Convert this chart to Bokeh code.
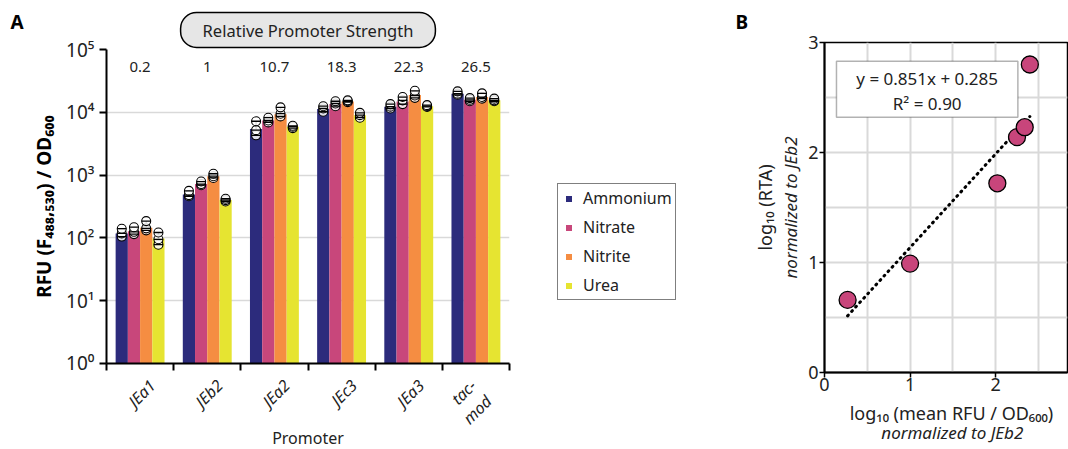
import math
from bokeh.plotting import figure
from bokeh.models import (Range1d, FixedTicker, Label, Legend, LegendItem,
                          BoxAnnotation, Title)
from bokeh.layouts import row, column
from bokeh.embed import file_html
from bokeh.resources import INLINE
from bokeh.core.properties import value

FONT = "Noto Sans"
INK = "#222222"

# ---------------- data ----------------
promoters = ["JEa1", "JEb2", "JEa2", "JEc3", "JEa3", "tac-\nmod"]
strength = [0.2, 1, 10.7, 18.3, 22.3, 26.5]
nitrogen_sources = ["Ammonium", "Nitrate", "Nitrite", "Urea"]
colors = ["#2c2b7c", "#c8477b", "#f58d42", "#e6e431"]

ammonium_mean = [118, 490, 5400, 11300, 12300, 19800]
nitrate_mean = [128, 720, 7400, 13500, 14800, 15800]
nitrite_mean = [145, 960, 9300, 14800, 18800, 17500]
urea_mean = [98, 400, 5900, 9000, 12500, 15500]

ammonium_reps = [[105, 118, 140], [460, 480, 560], [4300, 5200, 7200],
                 [10200, 11500, 12500], [11500, 12300, 13500], [19000, 19800, 21500]]
nitrate_reps = [[115, 125, 148], [690, 720, 790], [6900, 7400, 8200],
                [12500, 13800, 15000], [13500, 15500, 17500], [15000, 15800, 16800]]
nitrite_reps = [[132, 142, 185], [900, 960, 1050], [8600, 9500, 12000],
                [14500, 15000, 15500], [17000, 18500, 22000], [16500, 17500, 20000]]
urea_reps = [[78, 95, 122], [380, 400, 420], [5600, 5900, 6100],
             [8200, 9000, 9800], [12200, 12500, 13000], [15000, 15500, 16500]]

means = [ammonium_mean, nitrate_mean, nitrite_mean, urea_mean]
replicates = [ammonium_reps, nitrate_reps, nitrite_reps, urea_reps]

# panel B: log10 values normalised to JEb2
log_rfu = [0.27, 1.00, 2.02, 2.25, 2.34, 2.40]
log_rta = [0.66, 0.99, 1.72, 2.14, 2.23, 2.80]
fit_slope = 0.851
fit_intercept = 0.285
fit_r2 = 0.90


def blank(width, height, x_range, y_range, left=0, right=0):
    """Axis-less strip used for text that sits around the plotting areas."""
    f = figure(width=width, height=height, x_range=x_range, y_range=y_range,
               output_backend="svg", toolbar_location=None,
               x_axis_location=None, y_axis_location=None,
               min_border=0, min_border_left=left, min_border_right=right)
    f.frame_align = False
    f.grid.grid_line_color = None
    f.outline_line_color = None
    return f


# ---------------- panel A ----------------
pA = figure(width=517, height=375, y_axis_type="log",
            x_range=Range1d(0, 6), y_range=Range1d(1, 1e5),
            output_backend="svg", toolbar_location=None,
            title="Relative Promoter Strength",
            min_border_left=78, min_border_right=36,
            min_border_top=49, min_border_bottom=12)
pA.frame_align = False
pA.outline_line_color = None
pA.xgrid.grid_line_color = None
pA.ygrid.grid_line_color = "#d9d9d9"
pA.ygrid.grid_line_width = 1.5

t = pA.title
t.align = "center"
t.text_font = FONT
t.text_font_size = "16.5px"
t.text_font_style = "normal"
t.text_color = INK
t.background_fill_color = "#e6e6e6"
t.border_line_color = "black"
t.border_line_width = 1.5
t.border_radius = 16
t.padding = (22, 6)
t.standoff = 4

bar_w = 0.182
for j, src in enumerate(nitrogen_sources):
    xs = [i + 0.5 + (j - 1.5) * bar_w for i in range(len(promoters))]
    pA.vbar(x=xs, top=means[j], bottom=1, width=bar_w,
            fill_color=colors[j], line_color=None)
    lo = [min(r) for r in replicates[j]]
    hi = [max(r) for r in replicates[j]]
    pA.segment(x0=xs, y0=lo, x1=xs, y1=hi, line_color="black", line_width=1.3)
    px, py = [], []
    for x, reps in zip(xs, replicates[j]):
        for v in reps:
            px.append(x)
            py.append(v)
    pA.scatter(px, py, marker="circle", size=9, fill_color="white",
               fill_alpha=0.85, line_color="black", line_width=1.1)
    pA.scatter(px, py, marker="dash", size=9, line_color="black", line_width=1.3)

pA.text(x=[i + 0.5 for i in range(len(promoters))], y=[52000] * len(promoters),
        text=[f"{s:g}" for s in strength], text_align="center",
        text_baseline="middle", text_font=value(FONT), text_font_size="15px",
        text_color=INK)

sup = {1: "10⁰", 10: "10¹", 100: "10²", 1000: "10³", 10000: "10⁴", 100000: "10⁵"}
ya = pA.yaxis[0]
ya.ticker = FixedTicker(ticks=list(sup.keys()), minor_ticks=[])
ya.major_label_overrides = sup
ya.major_label_text_font = FONT
ya.major_label_text_font_size = "19px"
ya.major_label_text_color = INK
ya.axis_line_width = 2
ya.major_tick_line_width = 2
ya.major_tick_out = 7
ya.major_tick_in = 0
ya.minor_tick_line_color = None
ya.axis_label = "RFU (F₄₈₈,₅₃₀) / OD₆₀₀"
ya.axis_label_text_font = FONT
ya.axis_label_text_font_size = "19px"
ya.axis_label_text_font_style = "bold"
ya.axis_label_text_color = "black"
ya.axis_label_standoff = 6

# bottom axis: only the group-boundary ticks; names are set in the strip below
xa = pA.xaxis[0]
xa.ticker = FixedTicker(ticks=[], minor_ticks=list(range(len(promoters) + 1)))
xa.major_label_standoff = 0
xa.major_tick_line_color = None
xa.minor_tick_line_color = "black"
xa.minor_tick_line_width = 2
xa.minor_tick_out = 7
xa.minor_tick_in = 0
xa.axis_line_width = 2

# strip under panel A: rotated promoter names and the axis title
footA = blank(517, 74, Range1d(0, 6), Range1d(0, 74), left=78, right=36)
name_x = [i + (0.685 if "\n" not in p else 0.573) for i, p in enumerate(promoters)]
name_y = [74 - (7 if "\n" not in p else 15) for p in promoters]
footA.text(x=name_x, y=name_y, text=promoters, angle=math.pi / 4,
           text_align="right", text_baseline="middle", text_line_height=1.0,
           text_font=value(FONT), text_font_size="16px", text_font_style="italic",
           text_color=INK)
footA.text(x=[3.0], y=[74 - 62], text=["Promoter"], text_align="center",
           text_baseline="middle", text_font=value(FONT), text_font_size="16px",
           text_color=INK)

stripA = blank(28, 449, Range1d(0, 28), Range1d(0, 449))
stripA.text(x=[10], y=[449 - 21], text=["A"], text_align="left", text_baseline="middle",
            text_font=value(FONT), text_font_size="19px", text_font_style="bold",
            text_color="black")

# ---------------- legend ----------------
pL = blank(175, 449, Range1d(0, 1), Range1d(0, 1))
items = []
for src, c in zip(nitrogen_sources, colors):
    # swatch renderers sit outside the visible range; only their legend entries show
    r = pL.scatter(x=[-5], y=[-5], marker="square", size=15,
                   fill_color=c, line_color=None)
    items.append(LegendItem(label=src, renderers=[r]))
leg = Legend(items=items, location=(12, 149))
leg.border_line_color = "black"
leg.border_line_width = 1.5
leg.label_text_font = FONT
leg.label_text_font_size = "16px"
leg.label_text_color = INK
leg.glyph_width = 15
leg.glyph_height = 15
leg.label_height = 19
leg.spacing = 7
leg.padding = 3
leg.margin = 0
leg.label_standoff = 7
pL.add_layout(leg)

# ---------------- panel B ----------------
pB = figure(width=318, height=402, x_range=Range1d(0, 2.84), y_range=Range1d(0, 3),
            output_backend="svg", toolbar_location=None,
            min_border_left=71, min_border_right=1,
            min_border_top=42, min_border_bottom=30)
pB.frame_align = False
pB.outline_line_color = "black"
pB.outline_line_width = 1.5
pB.xgrid.ticker = FixedTicker(ticks=[0.5, 1, 1.5, 2, 2.5])
pB.ygrid.ticker = FixedTicker(ticks=[0.5, 1, 1.5, 2, 2.5])
pB.grid.grid_line_color = "#d9d9d9"
pB.grid.grid_line_width = 2

fx = [min(log_rfu), max(log_rfu)]
fy = [fit_slope * x + fit_intercept for x in fx]
pB.line(fx, fy, line_color="black", line_width=3, line_dash="1 5", line_cap="round")
pB.scatter(log_rfu, log_rta, marker="circle", size=17, fill_color="#c8457b",
           line_color="black", line_width=1.3)

pB.add_layout(BoxAnnotation(left=0.14, right=2.26, bottom=2.32, top=2.83,
                            fill_color="white", fill_alpha=1,
                            line_color="black", line_width=1.5))
pB.add_layout(Label(x=1.2, y=2.67, text=f"y = {fit_slope:.3f}x + {fit_intercept:.3f}",
                    text_font=FONT, text_font_size="17px", text_color=INK,
                    text_align="center", text_baseline="middle"))
pB.add_layout(Label(x=1.2, y=2.45, text=f"R² = {fit_r2:.2f}",
                    text_font=FONT, text_font_size="17px", text_color=INK,
                    text_align="center", text_baseline="middle"))

for ax in (pB.xaxis[0], pB.yaxis[0]):
    ax.ticker = FixedTicker(ticks=[0, 1, 2, 3], minor_ticks=[])
    ax.major_label_text_font = FONT
    ax.major_label_text_font_size = "18px"
    ax.major_label_text_color = INK
    ax.major_label_standoff = 1
    ax.axis_line_width = 2
    ax.major_tick_line_width = 1.5
    ax.major_tick_out = 5
    ax.major_tick_in = 0
    ax.minor_tick_line_color = None
    ax.axis_label_text_font = FONT
    ax.axis_label_text_font_size = "17px"
    ax.axis_label_text_color = INK

pB.xaxis[0].major_label_standoff = 0
pB.yaxis[0].axis_label = "normalized to JEb2"
pB.yaxis[0].axis_label_text_font_style = "italic"
pB.yaxis[0].axis_label_standoff = 3
pB.add_layout(Title(text="log₁₀ (RTA)", align="center", standoff=0,
                    text_font=FONT, text_font_size="18px", text_font_style="normal",
                    text_color=INK), "left")

footB = blank(318, 47, Range1d(0, 2.84), Range1d(0, 47), left=71, right=1)
footB.text(x=[1.5, 1.51], y=[47 - 10, 47 - 30],
           text=["log₁₀ (mean RFU / OD₆₀₀)", "normalized to JEb2"],
           text_font_style=["normal", "italic"],
           text_font_size=["18px", "17px"], text_align="center",
           text_baseline="middle", text_font=value(FONT), text_color=INK)

stripB = blank(30, 449, Range1d(0, 30), Range1d(0, 449))
stripB.text(x=[15], y=[449 - 21], text=["B"], text_align="left", text_baseline="middle",
            text_font=value(FONT), text_font_size="19px", text_font_style="bold",
            text_color="black")

layout = row(stripA, column(pA, footA, spacing=0), pL, stripB,
             column(pB, footB, spacing=0), spacing=0)
open("out.html", "w").write(file_html(layout, INLINE))
